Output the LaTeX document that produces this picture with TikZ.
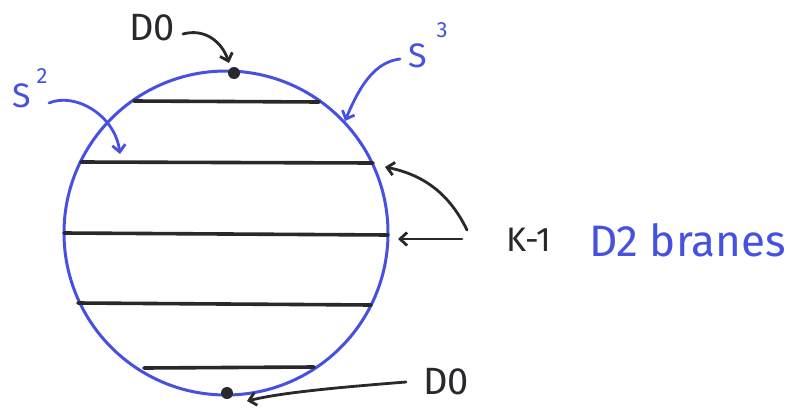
\documentclass[tikz,border=0pt]{standalone}
\usepackage{fontspec}
\setmainfont{Fira Sans}
\usetikzlibrary{arrows.meta}
\definecolor{pen}{RGB}{70,80,225}
\definecolor{ink}{RGB}{40,40,45}
\tikzset{
  brane/.style={draw=ink, line width=3.6pt, line cap=round},
  sphere/.style={draw=pen, line width=3pt},
  inkarrow/.style={draw=ink, line width=2.8pt, line cap=round, -{Straight Barb[length=7pt,width=13pt,line width=2.8pt]}},
  penarrow/.style={draw=pen, line width=2.8pt, line cap=round, -{Straight Barb[length=7pt,width=13pt,line width=2.8pt]}},
  lbl/.style={inner sep=0pt, text=ink},
  bluelbl/.style={inner sep=0pt, text=pen},
}
\begin{document}
\begin{tikzpicture}[x=1pt, y=-1pt]
\useasboundingbox (0,0) rectangle (789,407);
\fill[white] (0,0) rectangle (789,407);
% sphere
\coordinate (c) at (226,233);
\draw[sphere] (c) circle[radius=162];
% branes
\coordinate (l1a) at (134,101); \coordinate (l1b) at (319,102);
\coordinate (l2a) at (81,162);  \coordinate (l2b) at (373,163);
\coordinate (l3a) at (64,233);  \coordinate (l3b) at (388,235);
\coordinate (l4a) at (78,303);  \coordinate (l4b) at (371,305);
\coordinate (l5a) at (144,368); \coordinate (l5b) at (314,367);
\draw[brane] (l1a) -- (l1b);
\draw[brane] (l2a) -- (l2b);
\draw[brane] (l3a) -- (l3b);
\draw[brane] (l4a) -- (l4b);
\draw[brane] (l5a) -- (l5b);
% D0 dots
\node[circle, fill=ink, inner sep=0pt, minimum size=12pt] (dtop) at (234,73) {};
\node[circle, fill=ink, inner sep=0pt, minimum size=12pt] (dbot) at (227,393) {};
% labels
\node[lbl, font=\fontsize{38}{38}\selectfont] (d0top) at (152,28) {D0};
\node[lbl, font=\fontsize{38}{38}\selectfont] (d0bot) at (446,382) {D0};
\node[bluelbl, font=\fontsize{34}{34}\selectfont] (s3) at (418,56) {S};
\node[bluelbl, font=\fontsize{22}{22}\selectfont] (s3e) at (442,30) {3};
\node[bluelbl, font=\fontsize{34}{34}\selectfont] (s2) at (22,96) {S};
\node[bluelbl, font=\fontsize{22}{22}\selectfont] (s2e) at (42,76) {2};
\node[lbl, font=\fontsize{34}{34}\selectfont] (k) at (529,240) {K-1};
\node[bluelbl, font=\fontsize{44}{44}\selectfont, anchor=west] (d2) at (589,240) {D2 branes};
% arrows
\coordinate (a1s) at (183,34); \coordinate (a1e) at (229,63);
\draw[inkarrow] (a1s) .. controls (205,28) and (222,42) .. (a1e);
\coordinate (a2s) at (400,59); \coordinate (a2e) at (345,121);
\draw[penarrow] (a2s) .. controls (375,62) and (360,85) .. (a2e);
\coordinate (a3s) at (49,103); \coordinate (a3e) at (120,154);
\draw[penarrow] (a3s) .. controls (75,92) and (115,115) .. (a3e);
\coordinate (a4s) at (467,230); \coordinate (a4e) at (385,167);
\draw[inkarrow] (a4s) .. controls (450,195) and (425,175) .. (a4e);
\coordinate (a5s) at (462,239); \coordinate (a5e) at (398,239);
\draw[inkarrow] (a5s) -- (a5e);
\coordinate (a6s) at (406,382); \coordinate (a6e) at (247,401);
\draw[inkarrow] (a6s) .. controls (330,388) and (280,393) .. (a6e);
\end{tikzpicture}
\end{document}
